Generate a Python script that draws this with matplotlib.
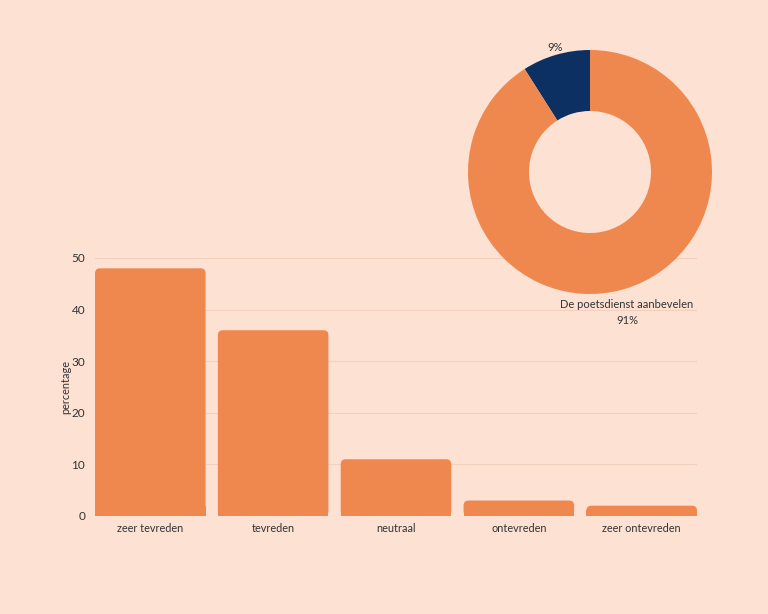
import matplotlib
matplotlib.use("Agg")
import matplotlib.pyplot as plt
from matplotlib.patches import FancyBboxPatch
import numpy as np

categories = ["zeer tevreden", "tevreden", "neutraal", "ontevreden", "zeer ontevreden"]
values = [48, 36, 11, 3, 2]
yticks = [0, 10, 20, 30, 40, 50]

pie_labels = ["9%", "De poetsdienst aanbevelen\n91%"]
pie_values = [9, 91]

BG = "#FDE1D3"
ORANGE = "#EF884F"
NAVY = "#0B3061"
TEXT = "#333333"
GRID = "#F3CFBE"

plt.rcParams['font.family'] = ['Lato', 'DejaVu Sans']

fig = plt.figure(figsize=(7.68, 6.14), dpi=100, facecolor=BG)
W, H = 768, 614

# bar axes
ax = fig.add_axes([95 / W, 1 - 516 / H, (697 - 95) / W, (516 - 258) / H])
ax.set_facecolor(BG)
x = np.arange(len(categories))
bw_units = 0.9
bars = ax.bar(x, values, width=bw_units, color=ORANGE, zorder=2)
ax.set_xlim(-bw_units / 2, len(categories) - 1 + bw_units / 2)
ax.set_ylim(0, 50)
ax.set_yticks(yticks)
ax.set_xticks(x)
ax.set_xticklabels(categories)
ax.tick_params(axis='both', length=0, colors=TEXT)
ax.tick_params(axis='y', pad=7, labelsize=8.5)
ax.tick_params(axis='x', pad=5, labelsize=7.8)
for s in ax.spines.values():
    s.set_visible(False)
ax.grid(axis='y', color=GRID, linewidth=0.8, zorder=0)
ax.set_axisbelow(True)
ax.set_ylabel("percentage", color=TEXT, fontsize=7.8)
ax.yaxis.set_label_coords((71 - 95) / (697 - 95), 0.5)

# rounded tops
px_x = (697 - 95) / (len(categories) - 1 + bw_units)  # px per x unit
px_y = (516 - 258) / 50.0                              # px per y unit
r_px = 5
for b in bars:
    bx, bw, bh = b.get_x(), b.get_width(), b.get_height()
    b.set_visible(False)
    rs = r_px / px_x
    p = FancyBboxPatch((bx, 0), bw, bh,
                       boxstyle=f"round,pad=0,rounding_size={rs}",
                       mutation_aspect=px_x / px_y,
                       facecolor=ORANGE, edgecolor='none', zorder=2)
    ax.add_patch(p)
    cut = min(bh * 0.6, 2 * r_px / px_y)
    ax.add_patch(plt.Rectangle((bx, 0), bw, cut, facecolor=ORANGE,
                               edgecolor='none', zorder=2))

# pie axes
cx, cy, R = 590, 172, 122
pax = fig.add_axes([(cx - R) / W, 1 - (cy + R) / H, 2 * R / W, 2 * R / H])
pax.set_facecolor('none')
wedges, _ = pax.pie(pie_values, colors=[NAVY, ORANGE], startangle=90,
                    counterclock=True, radius=1.0,
                    wedgeprops=dict(width=0.5, edgecolor='none'))
pax.set_xlim(-1, 1)
pax.set_ylim(-1, 1)
pax.set_aspect('equal')
pax.axis('off')
for w, lab in zip(wedges, pie_labels):
    th = np.deg2rad((w.theta1 + w.theta2) / 2)
    up = np.sin(th) > 0
    d = 1.02 if up else 1.085
    xx, yy = d * np.cos(th), d * np.sin(th)
    va = 'bottom' if up else 'top'
    pax.text(xx, yy, lab, ha='center', va=va, fontsize=8, color=TEXT,
             linespacing=1.5, clip_on=False)

fig.savefig("out.png", dpi=100, facecolor=BG)
